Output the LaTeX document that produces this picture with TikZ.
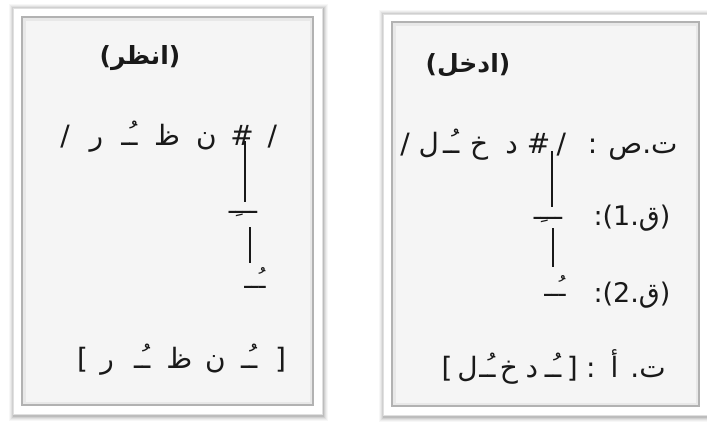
\documentclass[tikz,border=0pt]{standalone}
\usepackage{fontspec}
\TeXXeTstate=1
\newfontfamily\arabicfont[Script=Arabic]{DejaVu Sans}
\newfontfamily\latinfont{DejaVu Sans}
\newcommand{\tk}[2]{\makebox[#1pt]{#2}}
\newcommand{\lb}[1]{{\latinfont #1}}
\newcommand{\drawpanel}[8]{%
  \foreach \s/\o in {5/0.03,4/0.04,3/0.05,2/0.07,1/0.09}{%
    \fill[black,opacity=\o] (#1-\s+1,#2-\s+1) rectangle (#3+\s+1,#4+\s+2);}
  \fill[white] (#1,#2) rectangle (#3,#4);
  \draw[black!12,line width=0.8pt] (#1,#2) rectangle (#3,#4);
  \fill[black!4] (#5,#6) rectangle (#7,#8);
  \draw[black!9,line width=3pt] (#5+2,#6+2) rectangle (#7-2,#8-2);
  \draw[black!30,line width=1.2pt] (#5,#6) rectangle (#7,#8);
}
\tikzset{
  arab/.style={inner sep=0pt, font=\arabicfont\fontsize{28}{32}\selectfont, text=black!90},
  lbl/.style={inner sep=0pt, font=\arabicfont\fontsize{27}{30}\selectfont, text=black!90},
  barmark/.style={inner sep=0pt, anchor=base, font=\arabicfont\fontsize{24}{28}\selectfont, text=black!90},
  ttl/.style={inner sep=0pt, font=\arabicfont\bfseries\fontsize{25}{30}\selectfont, text=black!90},
  conn/.style={draw=black!90, line width=1.3pt},
}
\begin{document}
\begin{tikzpicture}[x=1pt,y=-1pt]
\useasboundingbox (0,0) rectangle (707,421);
\fill[white] (0,0) rectangle (707,421);
\drawpanel{13}{8}{322}{414}{22}{17}{313}{405}
\drawpanel{383}{14}{712}{415}{392}{22}{699}{406}

% ---- left panel
\node[ttl] (tL) at (140,58) {\beginR(انظر)\endR};
\node[arab] (uL) at (167.5,137) {\beginR\tk{27.5}{/}\tk{32.5}{\#}\tk{39}{ن}\tk{40}{ظ}\tk{35}{ـُـ}\tk{31}{ر}\tk{32}{/}\endR};
\coordinate (hashL) at (245,141);
\node[barmark] (k1L) at (243,213) {\beginR ـــِـ\endR};
\node[barmark] (d1L) at (255,288) {\beginR ـُــ\endR};
\coordinate (mL) at (250,227);
\draw[conn] (hashL) -- (245,202);
\draw[conn] (mL) -- (250,263);
\node[arab] (sL) at (185,360) {\beginR\tk{30}{\lb{]}}\tk{32.5}{ـُـ}\tk{35}{ن}\tk{37.5}{ظ}\tk{36.5}{ـُـ}\tk{33.5}{ر}\tk{16}{\lb{[}}\endR};

% ---- right panel
\node[ttl] (tR) at (468,65) {\beginR(ادخل)\endR};
\node[arab] (uR) at (533,145) {\beginR\tk{61}{ت.ص}\tk{40}{:}\tk{22.5}{/}\tk{23}{\#}\tk{31}{د}\tk{33.5}{خ}\tk{22.5}{ـُـ}\tk{22.5}{ل}\tk{25}{/}\endR};
\coordinate (hashR) at (552,151);
\node[barmark] (k1R) at (548,219) {\beginR ـــِـ\endR};
\node[barmark] (d1R) at (555,296) {\beginR ـُــ\endR};
\coordinate (mR) at (553,228);
\draw[conn] (hashR) -- (552,207);
\draw[conn] (mR) -- (553,267);
\node[lbl] (r1) at (632,218) {\beginR(ق.1):\endR};
\node[lbl] (r2) at (632,295) {\beginR(ق.2):\endR};
\node[arab] (sR) at (551.75,367) {\beginR\tk{38}{ت.}\tk{29}{أ}\tk{18.5}{:}\tk{18.5}{\lb{]}}\tk{20}{ـُـ}\tk{22.5}{د}\tk{23}{خ}\tk{20}{ـُـ}\tk{20}{ل}\tk{21}{\lb{[}}\endR};
\end{tikzpicture}
\end{document}
